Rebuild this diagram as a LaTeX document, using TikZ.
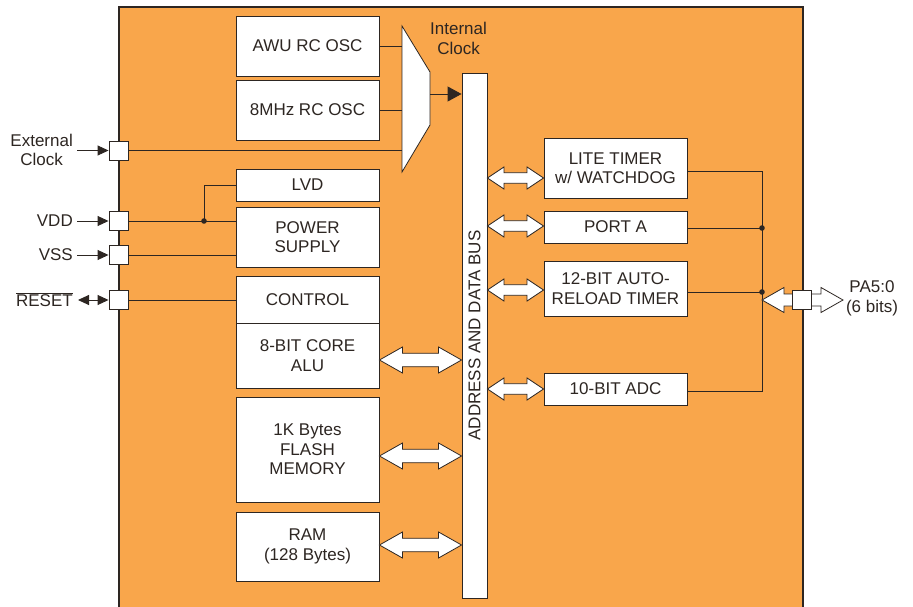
\documentclass[tikz,border=0pt]{standalone}
\usepackage{fontspec}
\setmainfont{Liberation Sans}
\usetikzlibrary{positioning,arrows.meta,calc}
\definecolor{colChip}{RGB}{249,166,75}
\definecolor{colLine}{RGB}{45,38,34}

% hollow double arrow between two points (same height)
\newcommand{\fatarrow}[5]{%
  \draw[fat] let \p1=(#1), \p2=(#2) in
    (\x1,\y1) -- (\x1+#5,\y1+#4) -- (\x1+#5,\y1+#3) -- (\x2-#5,\y1+#3)
    -- (\x2-#5,\y1+#4) -- (\x2,\y1) -- (\x2-#5,\y1-#4) -- (\x2-#5,\y1-#3)
    -- (\x1+#5,\y1-#3) -- (\x1+#5,\y1-#4) -- cycle;}

\begin{document}
\begin{tikzpicture}[
    x=1pt, y=-1pt,
    every node/.style={font=\fontsize{17}{19.5}\selectfont, text=colLine},
    blk/.style={draw=colLine, fill=white, line width=0.9pt, minimum width=143pt, align=center, inner sep=0pt},
    pin/.style={draw=colLine, fill=white, line width=0.9pt, minimum size=19pt, inner sep=0pt},
    lbl/.style={align=center, inner sep=2pt},
    wire/.style={draw=colLine, line width=0.9pt},
    fat/.style={draw=colLine, fill=white, line width=0.8pt, line join=miter},
    tip/.style={-{Triangle[length=11pt,width=10pt]}}
]
    \useasboundingbox (0,0) rectangle (913,607);

    % chip outline (runs past the bottom edge)
    \fill[colChip] (119,7) rectangle (803,615);
    \draw[colLine, line width=1.1pt] (119,615) -- (119,7) -- (803,7) -- (803,615);

    % clock sources and mux
    \node[blk, minimum height=60pt] (awu) at (307.5,46) {AWU RC OSC};
    \node[blk, minimum height=60pt] (osc) at (307.5,110) {8MHz RC OSC};
    \draw[fat] (402,26) coordinate (muxtl) -- (430,72) -- (430,125) -- (402,172) -- cycle;
    \coordinate (muxout) at (430,94);
    \node[lbl] (intclk) at (458.5,38.5) {Internal\\Clock};

    % supply, reset, core, memories
    \node[blk, minimum height=32pt] (lvd) at (307.5,185) {LVD};
    \node[blk, minimum height=60pt] (pwr) at (307.5,237) {POWER\\SUPPLY};
    \node[blk, minimum height=47pt] (ctrl) at (307.5,299.5) {CONTROL};
    \node[blk, minimum height=65pt] (alu) at (307.5,355.5) {8-BIT CORE\\ALU};
    \node[blk, minimum height=105pt] (flash) at (307.5,449.5) {1K Bytes\\FLASH\\MEMORY};
    \node[blk, minimum height=69pt] (ram) at (307.5,546.5) {RAM\\(128 Bytes)};

    % address and data bus
    \node[blk, minimum width=25pt, minimum height=525pt] (bus) at (474.5,335.5) {};
    \node[rotate=90] (buslbl) at (bus) {ADDRESS AND DATA BUS};

    % peripherals
    \node[blk, minimum height=60pt] (lite) at (615.5,168) {LITE TIMER\\w/ WATCHDOG};
    \node[blk, minimum height=32pt] (porta) at (615.5,227) {PORT A};
    \node[blk, minimum height=55pt] (tmr) at (615.5,288.5) {12-BIT AUTO-\\RELOAD TIMER};
    \node[blk, minimum height=32pt] (adc) at (615.5,389) {10-BIT ADC};

    % pins
    \node[pin] (pext) at (118.5,150.5) {};
    \node[pin] (pvdd) at (118.5,221) {};
    \node[pin] (pvss) at (118.5,255) {};
    \node[pin] (prst) at (118.5,300) {};

    % pin labels
    \node[lbl, anchor=east] (extlbl) at (75,150) {External\\Clock};
    \node[lbl, anchor=east] (vddlbl) at (75,221) {VDD};
    \node[lbl, anchor=east] (vsslbl) at (75,255) {VSS};
    \node[lbl, anchor=east] (rstlbl) at (75,300) {$\overline{\mbox{RESET}}$};

    \draw[wire, tip] ([xshift=2pt]extlbl.east |- pext) -- (pext.west);
    \draw[wire, tip] ([xshift=2pt]vddlbl.east) -- (pvdd.west);
    \draw[wire, tip] ([xshift=2pt]vsslbl.east) -- (pvss.west);
    \draw[wire, {Triangle[length=11pt,width=10pt]}-{Triangle[length=11pt,width=10pt]}] ([xshift=3pt]rstlbl.east) -- (prst.west);

    % inner wiring, left
    \draw[wire] (awu.east) -- (awu.east -| muxtl);
    \draw[wire] (osc.east) -- (osc.east -| muxtl);
    \draw[wire] (pext.east) -- (pext.east -| muxtl);
    \draw[wire, -{Triangle[length=14pt,width=15pt]}] (muxout) -- (muxout -| bus.west);
    \coordinate (jv) at (204,221);
    \draw[wire] (pvdd.east) -- (pvdd.east -| pwr.west);
    \draw[wire] (jv) |- (lvd.west);
    \fill[colLine] (jv) circle (2.8pt);
    \draw[wire] (pvss.east) -- (pvss.east -| pwr.west);
    \draw[wire] (prst.east) -- (prst.east -| ctrl.west);

    % bus arrows
    \fatarrow{$(alu.east)+(0,4.5)$}{bus.west}{6.7pt}{13pt}{23pt}
    \fatarrow{$(flash.east)+(0,6.5)$}{bus.west}{6.7pt}{13pt}{23pt}
    \fatarrow{$(ram.east)+(0,-1.5)$}{bus.west}{6.7pt}{13pt}{23pt}
    \fatarrow{$(bus.east |- lite.west)+(0,10)$}{lite.west}{5.3pt}{11pt}{16.5pt}
    \fatarrow{$(bus.east |- porta.west)+(0,-1)$}{porta.west}{5.3pt}{11pt}{16.5pt}
    \fatarrow{$(bus.east |- tmr.west)+(0,1.5)$}{tmr.west}{5.3pt}{11pt}{16.5pt}
    \fatarrow{bus.east |- adc.west}{adc.west}{5.3pt}{11pt}{16.5pt}

    % port A pins, right
    \coordinate (vbus) at (762,300);
    \coordinate (patip) at (843,300);
    \draw[wire] ($(lite.east)+(0,3)$) -| ($(vbus |- adc.east)+(0,2)$) -- ($(adc.east)+(0,2)$);
    \draw[wire] ($(porta.east)+(0,1)$) -- ($(vbus |- porta.east)+(0,1)$) coordinate (jpa);
    \draw[wire] ($(tmr.east)+(0,3.5)$) -- ($(vbus |- tmr.east)+(0,3.5)$) coordinate (jtm);
    \fill[colLine] (jpa) circle (2.8pt) (jtm) circle (2.8pt);
    \fatarrow{vbus}{patip}{6pt}{12.5pt}{22pt}
    \node[pin] (ppa) at (801.5,300) {};
    \node[lbl] (palbl) at (872,298.5) {PA5:0\\(6 bits)};
\end{tikzpicture}
\end{document}
